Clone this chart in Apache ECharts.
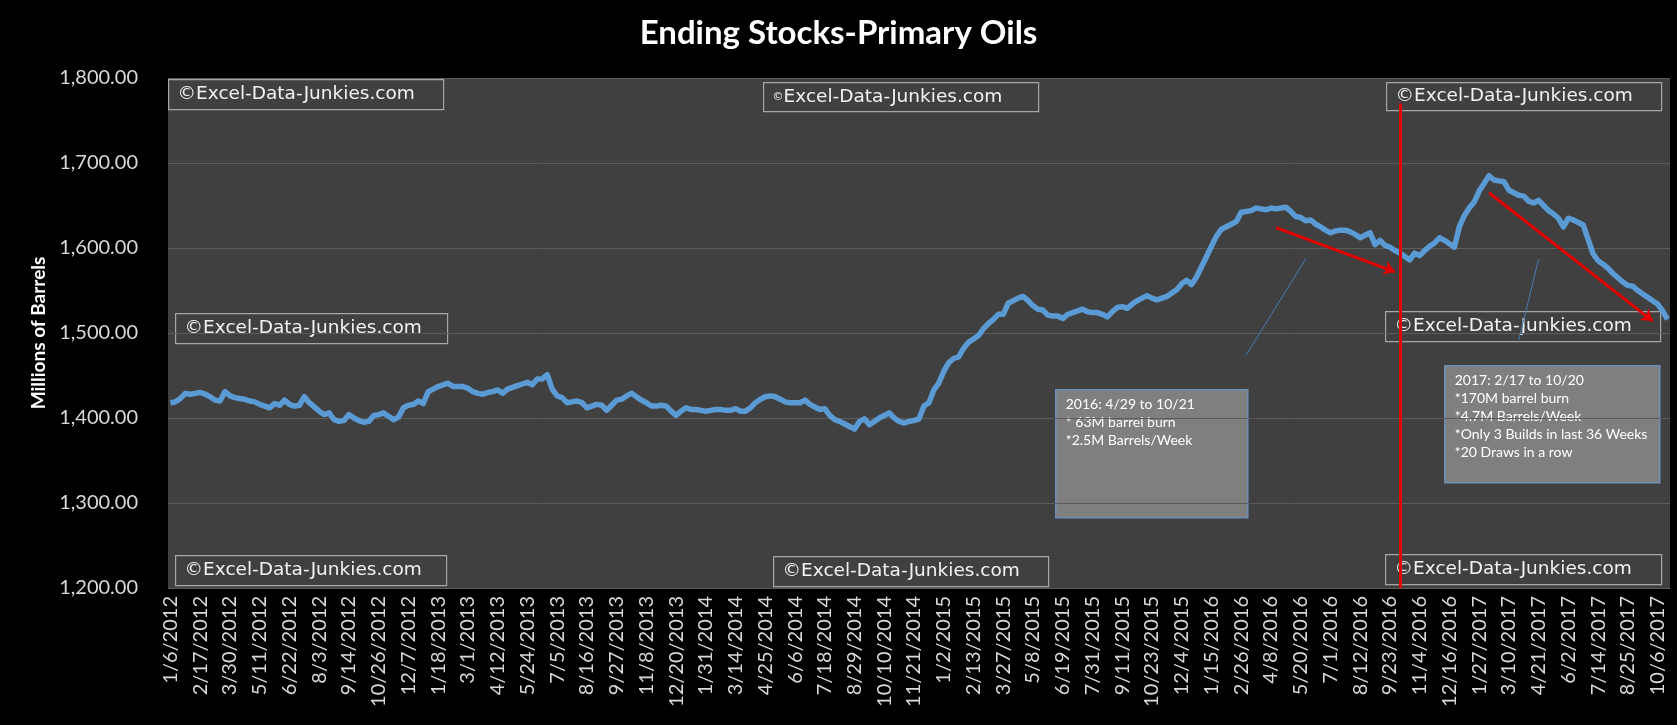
<!DOCTYPE html>
<html>
<head>
<meta charset="utf-8">
<script src="https://cdn.jsdelivr.net/npm/echarts@6/dist/echarts.min.js"></script>
<style>
html,body{margin:0;padding:0;background:#000;}
#c{width:1677px;height:725px;}
</style>
</head>
<body>
<div id="c"></div>
<script>
// ---- data ----
const startDate = [2012, 0, 6]; // first week: 1/6/2012, weekly thereafter
const stocks = [
1418,1419,1423,1429,1428,1429,1430,1428,1425,1421,
1420,1431,1426,1424,1423,1422,1420,1419,1416,1414,
1412,1417,1415,1421,1416,1414,1415,1425,1418,1413,
1408,1404,1406,1398,1396,1397,1404,1400,1397,1395,
1396,1403,1404,1406,1402,1398,1401,1412,1415,1416,
1420,1417,1431,1434,1437,1439,1441,1437,1437,1437,
1435,1431,1429,1428,1430,1431,1433,1429,1434,1436,
1438,1440,1442,1439,1446,1446,1451,1434,1426,1424,
1418,1419,1420,1418,1412,1414,1416,1415,1409,1415,
1421,1422,1426,1429,1425,1421,1418,1414,1414,1415,
1414,1408,1403,1408,1412,1410,1410,1409,1408,1409,
1410,1410,1409,1409,1411,1408,1408,1412,1418,1422,
1425,1426,1425,1422,1419,1418,1418,1418,1421,1416,
1413,1410,1411,1403,1398,1396,1393,1390,1387,1396,
1399,1392,1396,1400,1403,1406,1400,1396,1394,1396,
1397,1399,1414,1418,1433,1441,1455,1465,1470,1472,
1482,1489,1493,1497,1505,1511,1516,1522,1522,1535,
1538,1541,1543,1538,1532,1528,1527,1521,1520,1520,
1517,1522,1524,1526,1528,1525,1524,1524,1522,1519,
1525,1530,1531,1529,1534,1538,1541,1544,1541,1539,
1541,1543,1547,1551,1558,1562,1557,1566,1578,1590,
1602,1614,1622,1625,1628,1631,1642,1643,1644,1647,
1646,1645,1647,1646,1647,1648,1643,1637,1636,1632,
1633,1628,1625,1621,1618,1620,1621,1621,1619,1616,
1612,1615,1618,1604,1609,1603,1601,1597,1594,1590,
1586,1594,1591,1597,1602,1606,1612,1609,1605,1601,
1625,1638,1647,1654,1667,1676,1685,1680,1679,1678,
1668,1665,1662,1661,1655,1653,1656,1650,1644,1640,
1635,1625,1635,1633,1630,1627,1610,1593,1585,1581,
1576,1570,1565,1560,1556,1555,1550,1546,1542,1538,
1534,1526,1516
];
const yTicks = [1200, 1300, 1400, 1500, 1600, 1700, 1800];
const titleText = 'Ending Stocks-Primary Oils';
const yName = 'Millions of Barrels';
const watermark = 'Excel-Data-Junkies.com';
const note2016 = ['2016: 4/29 to 10/21', '* 63M barrel burn', '*2.5M Barrels/Week'];
const note2017 = ['2017: 2/17 to 10/20', '*170M barrel burn', '*4.7M Barrels/Week', '*Only 3 Builds in last 36 Weeks', '*20 Draws in a row'];
// annotation anchors: [week index, value]
const redVertical = [[248, 1770], [248, 1200]];
const arrow2016 = [[223, 1624], [247, 1572]];
const arrow2017 = [[266, 1665], [299, 1514]];
const leader2016 = [[217, 1474], [229, 1587]];
const leader2017 = [[272, 1492], [276, 1587]];

function weeklyDates(start, n) {
  const out = [];
  const t0 = Date.UTC(start[0], start[1], start[2]);
  for (let i = 0; i < n; i++) {
    const d = new Date(t0 + i * 7 * 86400000);
    out.push((d.getUTCMonth() + 1) + '/' + d.getUTCDate() + '/' + d.getUTCFullYear());
  }
  return out;
}
const categories = weeklyDates(startDate, stocks.length);

// ---- chart ----
const chart = echarts.init(document.getElementById('c'));

function wmBox(x, y, w, h, smallC) {
  return {
    type: 'group', left: x, top: y, z: 50,
    children: [
      { type: 'rect', shape: { x: 0, y: 0, width: w, height: h },
        style: { fill: 'rgba(0,0,0,0)', stroke: '#a6a6a6', lineWidth: 1.2 } },
      { type: 'text', x: 9, y: h / 2,
        style: {
          text: '{c|©}{t|' + watermark + '}',
          verticalAlign: 'middle',
          rich: {
            c: { fill: '#f2f2f2', fontFamily: 'DejaVu Sans', fontSize: smallC ? 11 : 18.5 },
            t: { fill: '#f2f2f2', fontFamily: 'DejaVu Sans', fontSize: 18.5 }
          }
        } }
    ]
  };
}
function noteBox(x, y, w, h, lines, lh) {
  return {
    type: 'group', left: x, top: y, z: 50,
    children: [
      { type: 'rect', shape: { x: 0, y: 0, width: w, height: h },
        style: { fill: '#7f7f7f', stroke: '#6f8fb8', lineWidth: 1.5 } },
      { type: 'text', x: 10, y: 6,
        style: {
          text: lines.map(l => '{n|' + l + '}').join('\n'),
          rich: { n: { fill: '#ffffff', fontFamily: 'Lato', fontSize: 14, lineHeight: lh } }
        } }
    ]
  };
}

function seg(pts, style, arrow) {
  return [
    { coord: pts[0], symbol: 'none', lineStyle: style },
    { coord: pts[1], symbol: arrow ? 'arrow' : 'none', symbolSize: 11 }
  ];
}
const redStyle = { color: '#e30000', width: 3, type: 'solid' };
const leaderStyle = { color: '#4a79b0', width: 1, type: 'solid' };

const option = {
  backgroundColor: '#000000',
  animation: false,
  title: {
    text: titleText, left: 'center', top: 12,
    textStyle: { color: '#ffffff', fontFamily: 'Lato', fontWeight: 'bold', fontSize: 33 }
  },
  grid: {
    left: 168, right: 7, top: 78, bottom: 137,
    show: true, backgroundColor: '#404040', borderWidth: 0
  },
  xAxis: {
    type: 'category',
    data: categories,
    boundaryGap: true,
    axisLine: { show: false },
    axisTick: { show: false },
    axisLabel: {
      interval: 5, rotate: 90, color: '#d9d9d9', fontFamily: 'Lato', fontSize: 20, margin: 8
    },
    splitLine: { show: false }
  },
  yAxis: {
    type: 'value',
    min: yTicks[0], max: yTicks[yTicks.length - 1], interval: yTicks[1] - yTicks[0],
    name: yName, nameLocation: 'middle', nameGap: 116, nameRotate: 90,
    nameTextStyle: { color: '#ffffff', fontFamily: 'Lato', fontWeight: 'bold', fontSize: 19 },
    axisLine: { show: false },
    axisTick: { show: false },
    axisLabel: {
      color: '#d9d9d9', fontFamily: 'Lato', fontSize: 20, margin: 30,
      formatter: v => v.toLocaleString('en-US', { minimumFractionDigits: 2, maximumFractionDigits: 2 })
    },
    splitLine: { lineStyle: { color: '#5c5c5c', width: 1 } }
  },
  series: [{
    type: 'line',
    data: stocks,
    showSymbol: false,
    symbol: 'none',
    lineStyle: { color: '#5b9bd5', width: 5.5, join: 'round' },
    z: 3,
    markLine: {
      silent: true,
      animation: false,
      symbol: ['none', 'none'],
      label: { show: false },
      emphasis: { disabled: true },
      data: [
        seg(redVertical, redStyle, false),
        seg(arrow2016, redStyle, true),
        seg(arrow2017, redStyle, true),
        seg(leader2016, leaderStyle, false),
        seg(leader2017, leaderStyle, false)
      ]
    }
  }],
  graphic: [
    wmBox(168, 79, 275, 30),
    wmBox(763, 82, 275, 29, true),
    wmBox(1386, 82, 275, 28),
    wmBox(175, 313, 272, 30),
    wmBox(1385, 311, 275, 30),
    wmBox(175, 555, 271, 30),
    wmBox(773, 556, 275, 30),
    wmBox(1385, 554, 276, 30),
    noteBox(1055, 389, 192, 128, note2016, 18),
    noteBox(1444, 365, 215, 117, note2017, 18)
  ]
};
chart.setOption(option);
</script>
</body>
</html>
